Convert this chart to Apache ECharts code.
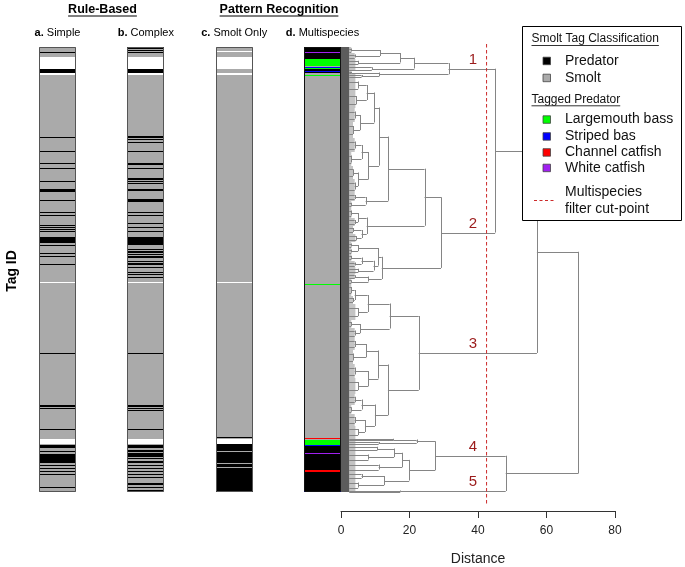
<!DOCTYPE html>
<html><head><meta charset="utf-8">
<script src="https://cdn.jsdelivr.net/npm/echarts@6/dist/echarts.min.js"></script>
<style>html,body{margin:0;padding:0;background:#fff}#c{width:685px;height:567px}</style>
</head><body><div id="c"></div>
<script>
const FONT = "'Liberation Sans', Arial, Helvetica, sans-serif";
const N_TAGS = 445;

// ---------- column categories ----------
const columns = ['a.|Simple', 'b.|Complex', 'c.|Smolt Only', 'd.|Multispecies'];
const classOrder = ['S', 'P', 'N', 'G', 'B', 'R', 'V'];
const classColor = ['#aaaaaa', '#000000', '#ffffff', '#00ff00', '#0000ff', '#ff0000', '#a020f0'];

// ---------- stripe segments [class, fromTag, toTag] (default = smolt) ----------
const colA = [
 ['P',4.5,5.3],['N',10.3,22.3],['P',22.3,25.7],['N',26.3,27.7],
 ['P',90,91],['P',104,104.8],['P',116,116.8],['P',121,121.8],['P',134,134.8],['P',142,144.7],['P',153,154.3],
 ['P',164.5,165.3],['P',168,168.8],['P',178,178.8],['P',180,180.8],['P',181.7,182.5],['P',183.5,184.3],
 ['P',189.7,196.3],['P',197.5,198.7],['P',206.3,207],['P',209,210.3],['P',217,217.8],
 ['N',235,236],['P',306,306.8],['P',358.3,360],['P',361.3,362],['P',382,382.8],
 ['N',391.5,396.8],['P',397.5,401],['P',404,404.8],['P',406.5,416],['P',418,419],['P',420.7,421.5],
 ['P',423.7,425.3],['P',427.3,428],['P',439.5,440.3]
];
const colB = [
 ['P',0.3,1.7],['P',3,3.6],['P',4.7,5.4],['N',10.3,22.3],['P',22.3,25.7],['N',26.3,27.7],
 ['P',89,90.5],['P',91.5,92.3],['P',94.5,95.3],['P',104,104.8],['P',116,117.8],['P',121,121.8],['P',131,132.5],
 ['P',134,134.8],['P',136.3,137],['P',142,144],['P',151.7,154.7],['P',164.5,165.3],['P',168,168.8],['P',176.3,177],
 ['P',179.7,181.3],['P',183.5,184.3],
 ['P',189.7,198],['P',202,203],['P',204,206],['P',207,208],['P',209,210.5],['P',213.5,214.3],['P',216,218],
 ['P',220,221],['P',224.5,225.3],['P',226.5,228],['P',229.5,230.3],
 ['N',235,236],['P',306,306.8],['P',358,360],['P',361,362],['P',363,363.8],['P',382,382.8],
 ['N',391.5,396.8],['P',397.5,401.3],['P',403,404.7],['P',405.7,409.7],['P',410.7,412.3],['P',413.7,415.7],
 ['P',418,418.8],['P',420.7,422],['P',423.7,425.3],['P',427.3,428],['P',430,430.8],['P',436.3,438],
 ['P',439.7,441.3],['P',443,443.8]
];
const colC = [
 ['N',4.3,5.2],['N',10.3,22.3],['N',26.3,28],['N',235,236],['P',390,390.8],['N',391.5,396.8],
 ['P',397.3,445],['S',404.4,405.2],['S',416,416.8],['S',420.4,421.2]
];
const colD = [
 ['P',0,12.3],['V',5.2,6.2],['G',12.3,18],['G',18.4,19.1],['B',19.8,20.5],['G',21,21.7],['P',22,26.3],
 ['B',23.6,24.3],['G',28.2,29.2],['G',236.5,237.5],
 ['R',390.8,391.8],['G',392.5,397],['G',397,397.8],['B',397.8,398.6],['P',398.6,445],['V',405.8,406.6],
 ['R',423,424.6],['B',443.8,445]
];

// ---------- dendrogram: leaf = [firstTag, lastTag, height], node = [height, left, right] ----------
const cluster1 = [31.4,
  [21.4, [17.3, [11.4, [0,5,3], [6,11,4]], [12,18,5]], [19,23,9]],
  [11.2, [24,26,3], [27,30,6]]];
const cluster2 = [29.2,
  [24.4,
    [13.8,
      [11.1,
        [9.7, [7.5, [31,44,5], [45,60,4.5]], [5.6, [61,74,4], [75,90,3.5]]],
        [8, [6, [91,104,4], [105,118,3]], [5, [119,131,3.5], [132,145,4]]]],
      [7.2, [146,153,4], [154,160,3]]],
    [7.5, [5, [161,170,3], [171,178,4]], [6, [179,186,3.5], [187,194,4.5]]]],
  [11.9,
    [10.9, [5, [195,200,3], [201,206,3]], [9.5, [6, [207,213,3], [214,219,4]], [220,226,5]]],
    [8, [227,231,4], [232,236,3]]]];
const cluster3 = [22.7,
  [14.2,
    [7.8, [4, [237,248,3], [249,256,3.5]], [257,272,5]],
    [5.6, [273,280,3], [281,290,4]]],
  [13.7,
    [10.9, [7.4, [291,302,4], [303,316,3.5]], [8, [317,330,4], [331,346,5]]],
    [9.9, [6, [347,357,4], [358,366,3]], [7, [367,378,4], [379,390,5]]]]];
const cluster4 = [27.5,
  [22.1, [391,393,15.3], [394,397,11]],
  [19.9,
    [17.9, [15.5, [398,404,10.6], [405,414,8]], [415,424,11]],
    [12.6, [425,432,6], [433,442,5]]]];
const cluster5 = [443,444,17.3];
const topHeights = [45, 57.2, 48.1, 69.3]; // (1+2), (12+3), (4+5), root
const cutPoint = 42.5;
const clusterLabels = ['1', '2', '3', '4', '5'];
const distanceTicks = [0, 20, 40, 60, 80];

// ---------- legend text ----------
const legendHeadings = ['Smolt Tag Classification', 'Tagged Predator'];
const legendClassItems = ['Predator', 'Smolt'];
const legendClassColors = ['#000000', '#aaaaaa'];
const legendPredItems = ['Largemouth bass', 'Striped bas', 'Channel catfish', 'White catfish'];
const legendPredColors = ['#00ff00', '#0000ff', '#ff0000', '#a020f0'];
const legendCutItem = ['Multispecies', 'filter cut-point'];

// ---------- build data ----------
const stripeData = [];
[colA, colB, colC, colD].forEach((segs, ci) => {
  stripeData.push([ci, 0, N_TAGS, 0]);
  segs.forEach(s => stripeData.push([ci, s[1], s[2], classOrder.indexOf(s[0])]));
});
const frameData = columns.map((c, i) => [i, 0, N_TAGS]);

const FUZZ_D = 2.4, FUZZ_D2 = 4.2;
const segs = [], fuzz = [], fuzz2 = [];
function layout(node) {
  if (typeof node[1] === 'number') {
    const top = node[0], bot = node[1] + 1, h = node[2];
    fuzz.push([0, top, FUZZ_D, bot]);
    fuzz2.push([FUZZ_D, top, Math.min(FUZZ_D2, h), bot]);
    const q1 = top + (bot - top) * 0.25, q3 = top + (bot - top) * 0.75;
    if (h > FUZZ_D) {
      segs.push([FUZZ_D, q1, h, q1], [FUZZ_D, q3, h, q3], [h, q1, h, q3]);
    }
    return { c: (top + bot) / 2, h: h };
  }
  const h = node[0];
  const a = layout(node[1]), b = layout(node[2]);
  segs.push([a.h, a.c, h, a.c], [b.h, b.c, h, b.c], [h, a.c, h, b.c]);
  return { c: (a.c + b.c) / 2, h: h };
}
function merge(h, a, b) {
  segs.push([a.h, a.c, h, a.c], [b.h, b.c, h, b.c], [h, a.c, h, b.c]);
  return { c: (a.c + b.c) / 2, h: h };
}
const r1 = layout(cluster1), r2 = layout(cluster2), r3 = layout(cluster3), r4 = layout(cluster4), r5 = layout(cluster5);
const m12 = merge(topHeights[0], r1, r2);
const m123 = merge(topHeights[1], m12, r3);
const m45 = merge(topHeights[2], r4, r5);
merge(topHeights[3], m123, m45);
const labelData = [r1, r2, r3, r4, r5].map((r, i) => [cutPoint - 4, r.c - 9, i]);
const cutData = [[cutPoint, -3, cutPoint, N_TAGS + 13]];

// ---------- text measuring for underlines ----------
const mctx = document.createElement('canvas').getContext('2d');
function tw(txt, font) { mctx.font = font; return mctx.measureText(txt).width; }

const graphics = [];
function title(txt, cx, cy) {
  const f = `bold 12.5px ${FONT}`;
  const w = tw(txt, f);
  graphics.push({ type: 'text', x: cx, y: cy, style: { text: txt, font: f, fill: '#000', align: 'center', verticalAlign: 'middle', textAlign: 'center', textVerticalAlign: 'middle' } });
  graphics.push({ type: 'line', shape: { x1: cx - w / 2, y1: cy + 6.5, x2: cx + w / 2, y2: cy + 6.5 }, style: { stroke: '#000', lineWidth: 1 } });
}
title('Rule-Based', 102.5, 9.5);
title('Pattern Recognition', 279, 9.5);
graphics.push({ type: 'text', x: 12, y: 271, rotation: Math.PI / 2, style: { text: 'Tag ID', font: `bold 14px ${FONT}`, fill: '#000', align: 'center', verticalAlign: 'middle', textAlign: 'center', textVerticalAlign: 'middle' } });

// legend box
const LZ = 100;
graphics.push({ type: 'rect', z: LZ, shape: { x: 522.5, y: 26.5, width: 159, height: 194 }, style: { fill: '#fff', stroke: '#000', lineWidth: 1 } });
function heading(txt, y) {
  const f = `12px ${FONT}`;
  const w = tw(txt, f);
  graphics.push({ type: 'text', z: LZ + 1, x: 531.5, y: y, style: { text: txt, font: f, fill: '#111', align: 'left', verticalAlign: 'middle', textAlign: 'left', textVerticalAlign: 'middle' } });
  graphics.push({ type: 'line', z: LZ + 1, shape: { x1: 531.5, y1: y + 6.5, x2: 531.5 + w, y2: y + 6.5 }, style: { stroke: '#333', lineWidth: 1 } });
}
function item(txt, color, y) {
  graphics.push({ type: 'rect', z: LZ + 1, shape: { x: 543, y: y - 3.5, width: 7.5, height: 7.5 }, style: { fill: color, stroke: '#444', lineWidth: 0.8 } });
  graphics.push({ type: 'text', z: LZ + 1, x: 565, y: y, style: { text: txt, font: `14px ${FONT}`, fill: '#111', align: 'left', verticalAlign: 'middle', textAlign: 'left', textVerticalAlign: 'middle' } });
}
heading(legendHeadings[0], 39);
legendClassItems.forEach((t, i) => item(t, legendClassColors[i], 60.7 + i * 17));
heading(legendHeadings[1], 99.3);
const predY = [119.3, 136.2, 152.2, 167.7];
legendPredItems.forEach((t, i) => item(t, legendPredColors[i], predY[i]));
graphics.push({ type: 'line', z: LZ + 1, shape: { x1: 534, y1: 200.5, x2: 556, y2: 200.5 }, style: { stroke: '#cc2a2a', lineWidth: 1, lineDash: [3, 2.5] } });
legendCutItem.forEach((t, i) => graphics.push({ type: 'text', z: LZ + 1, x: 565, y: 191.7 + i * 17.3, style: { text: t, font: `14px ${FONT}`, fill: '#111', align: 'left', verticalAlign: 'middle', textAlign: 'left', textVerticalAlign: 'middle' } }));

const COL_FRAC = 37 / 88.325;
const chart = echarts.init(document.getElementById('c'), null, { renderer: 'canvas' });
chart.setOption({
  animation: false,
  backgroundColor: '#fff',
  grid: [
    { left: 341, top: 47, width: 274, height: N_TAGS, outerBoundsMode: 'none', containLabel: false },
    { left: 13.35, top: 47, width: 353.3, height: N_TAGS, outerBoundsMode: 'none', containLabel: false }
  ],
  xAxis: [
    { gridIndex: 0, type: 'value', min: 0, max: 80, interval: 20, position: 'bottom', offset: 19,
      axisLine: { show: true, onZero: false, lineStyle: { color: '#333', width: 1 } },
      axisTick: { show: true, length: 7, lineStyle: { color: '#333' } },
      splitLine: { show: false },
      axisLabel: { fontSize: 12, color: '#222', margin: 14, fontFamily: FONT,
        formatter: v => distanceTicks.includes(v) ? String(v) : '' },
      name: 'Distance', nameLocation: 'middle', nameGap: 41,
      nameTextStyle: { fontSize: 14, color: '#222', fontFamily: FONT } },
    { gridIndex: 1, type: 'category', data: columns, position: 'top', boundaryGap: true,
      axisLine: { show: false, onZero: false }, axisTick: { show: false }, splitLine: { show: false },
      axisLabel: { interval: 0, margin: 9, fontSize: 11, color: '#000', fontFamily: FONT,
        formatter: v => { const p = v.split('|'); return '{b|' + p[0] + '} ' + p[1]; },
        rich: { b: { fontWeight: 'bold', fontSize: 11, fontFamily: FONT, color: '#000' } } } }
  ],
  yAxis: [
    { gridIndex: 0, type: 'value', min: 0, max: N_TAGS, inverse: true, show: false },
    { gridIndex: 1, type: 'value', min: 0, max: N_TAGS, inverse: true, show: false }
  ],
  series: [
    { type: 'custom', xAxisIndex: 1, yAxisIndex: 1, data: stripeData, clip: false, silent: true,
      renderItem: (p, api) => {
        const ci = api.value(0);
        const a = api.coord([ci, api.value(1)]), b = api.coord([ci, api.value(2)]);
        const w = api.size([1, 0])[0] * COL_FRAC;
        const y0 = Math.round(a[1]), y1 = Math.max(y0 + 1, Math.round(b[1]));
        return { type: 'rect', shape: { x: Math.round(a[0] - w / 2), y: y0, width: Math.round(w), height: y1 - y0 },
          style: { fill: classColor[api.value(3)] } };
      } },
    { type: 'custom', xAxisIndex: 1, yAxisIndex: 1, data: frameData, clip: false, silent: true,
      renderItem: (p, api) => {
        const ci = api.value(0);
        const a = api.coord([ci, api.value(1)]), b = api.coord([ci, api.value(2)]);
        const w = api.size([1, 0])[0] * COL_FRAC;
        return { type: 'rect', shape: { x: Math.round(a[0] - w / 2) + 0.5, y: a[1] + 0.5, width: Math.round(w) - 1, height: b[1] - a[1] - 1 },
          style: { fill: null, stroke: ci === 3 ? '#111' : '#555', lineWidth: 1 } };
      } },
    { type: 'custom', xAxisIndex: 0, yAxisIndex: 0, data: fuzz2, clip: false, silent: true,
      renderItem: (p, api) => {
        const a = api.coord([api.value(0), api.value(1)]), b = api.coord([api.value(2), api.value(3)]);
        return { type: 'rect', shape: { x: a[0], y: a[1], width: b[0] - a[0], height: b[1] - a[1] },
          style: { fill: '#c4c4c4' } };
      } },
    { type: 'custom', xAxisIndex: 0, yAxisIndex: 0, data: fuzz, clip: false, silent: true,
      renderItem: (p, api) => {
        const a = api.coord([api.value(0), api.value(1)]), b = api.coord([api.value(2), api.value(3)]);
        return { type: 'rect', shape: { x: a[0], y: a[1], width: b[0] - a[0], height: b[1] - a[1] },
          style: { fill: '#5c5c5c' } };
      } },
    { type: 'custom', xAxisIndex: 0, yAxisIndex: 0, data: segs, clip: false, silent: true,
      renderItem: (p, api) => {
        const a = api.coord([api.value(0), api.value(1)]), b = api.coord([api.value(2), api.value(3)]);
        const horiz = Math.abs(a[1] - b[1]) < 0.01;
        const x1 = horiz ? a[0] : Math.round(a[0]) + 0.5, x2 = horiz ? b[0] : Math.round(b[0]) + 0.5;
        const y1 = horiz ? Math.round(a[1]) + 0.5 : a[1], y2 = horiz ? Math.round(b[1]) + 0.5 : b[1];
        return { type: 'line', shape: { x1, y1, x2, y2 }, style: { stroke: '#858585', lineWidth: 1 } };
      } },
    { type: 'custom', xAxisIndex: 0, yAxisIndex: 0, data: cutData, clip: false, silent: true,
      renderItem: (p, api) => {
        const a = api.coord([api.value(0), api.value(1)]), b = api.coord([api.value(2), api.value(3)]);
        return { type: 'line', shape: { x1: a[0], y1: a[1], x2: b[0], y2: b[1] },
          style: { stroke: '#cc2a2a', lineWidth: 1, lineDash: [3.5, 2.5] } };
      } },
    { type: 'custom', xAxisIndex: 0, yAxisIndex: 0, data: labelData, clip: false, silent: true,
      renderItem: (p, api) => {
        const a = api.coord([api.value(0), api.value(1)]);
        return { type: 'text', x: a[0], y: a[1],
          style: { text: clusterLabels[api.value(2)], font: `15px ${FONT}`, fill: '#9b1b1b',
            align: 'center', verticalAlign: 'middle', textAlign: 'center', textVerticalAlign: 'middle' } };
      } }
  ],
  graphic: { elements: graphics }
});
</script></body></html>
